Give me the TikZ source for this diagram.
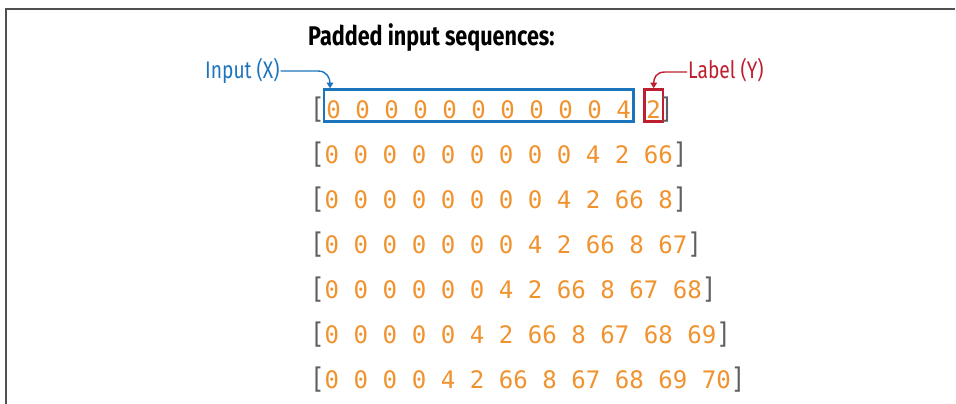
\documentclass[tikz,border=0pt]{standalone}
\usepackage{fontspec}
\setmainfont[FakeStretch=0.8]{Fira Sans}
\setmonofont{DejaVu Sans Mono}
\usepackage{xcolor}
\usepackage{graphicx}
\usepackage{tikz}
\usetikzlibrary{positioning, arrows.meta}

\definecolor{seqorange}{HTML}{F0922E}
\definecolor{brkgray}{HTML}{5F6062}
\definecolor{xblue}{HTML}{1C75BC}
\definecolor{yred}{HTML}{BE1E2D}
\definecolor{framegray}{HTML}{505050}
\newcommand{\brk}[1]{\textcolor{brkgray}{\scalebox{1}[1.18]{#1}}}

\begin{document}
\begin{tikzpicture}[x=1pt, y=-1pt,
  seq/.style={anchor=base west, inner sep=0pt, text=seqorange,
              font=\fontsize{24.1}{24}\selectfont\ttfamily},
  xbox/.style={draw=xblue, line width=2.5pt, inner xsep=2.5pt, inner ysep=0pt,
               text height=28.5pt, text depth=3.5pt},
  ybox/.style={xbox, draw=yred, inner xsep=2.2pt},
  tag/.style={anchor=base west, inner sep=1pt, font=\fontsize{24}{24}\selectfont},
  pointer/.style={line width=1.4pt, -{Triangle[length=5.5pt, width=6.5pt]}}]
  \useasboundingbox (0,0) rectangle (956,404);
  \draw[framegray, line width=2pt] (6,404) -- (6,9.5) -- (955,9.5);
  \node[anchor=base west, inner sep=0pt, font=\fontsize{27}{27}\selectfont\bfseries]
    (title) at (308,46) {Padded input sequences:};
  % first row: input and label
  \node[seq] (o1) at (310,118) {\brk{[}};
  \node[seq, xbox] (xin) at (322.5,118) {0 0 0 0 0 0 0 0 0 0 4};
  \node[seq, ybox] (ylab) at (643,118) {2};
  \node[seq] (c1) at (659,118) {\brk{]}};
  \node[tag, text=xblue] (inp) at (204,78) {Input (X)};
  \node[tag, text=yred] (lab) at (687,78) {Label (Y)};
  \draw[pointer, xblue] (inp.east |- 0,71) -- (318,71)
    .. controls +(9,0) and +(0,-10) .. ([xshift=7.5pt]xin.north west);
  \draw[pointer, yred] (lab.west |- 0,72) -- (665,72)
    .. controls +(-9,0) and +(0,-10) .. (ylab.north);
  % remaining rows
  \foreach \i/\s in {2/{0 0 0 0 0 0 0 0 0 4 2 66},
                     3/{0 0 0 0 0 0 0 0 4 2 66 8},
                     4/{0 0 0 0 0 0 0 4 2 66 8 67},
                     5/{0 0 0 0 0 0 4 2 66 8 67 68},
                     6/{0 0 0 0 0 4 2 66 8 67 68 69},
                     7/{0 0 0 0 4 2 66 8 67 68 69 70}}
    \node[seq] (r\i) at (310,{118+45*(\i-1)}) {\brk{[}\s\brk{]}};
\end{tikzpicture}
\end{document}
